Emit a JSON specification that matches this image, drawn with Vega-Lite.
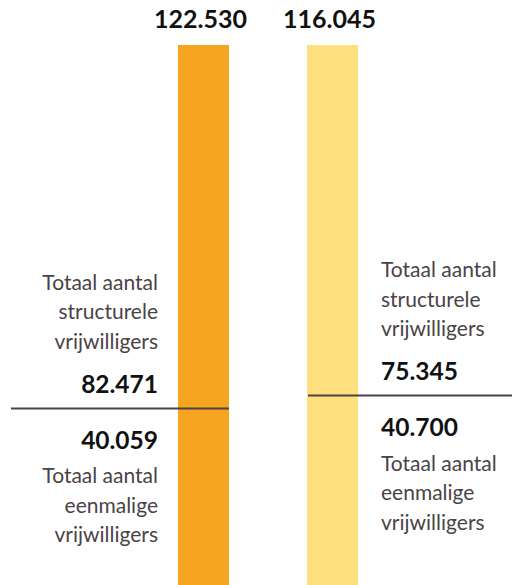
{
  "$schema": "https://vega.github.io/schema/vega-lite/v6.json",
  "width": 512,
  "height": 585,
  "autosize": {"type": "fit", "contains": "padding"},
  "padding": 0,
  "background": "#ffffff",
  "config": {
    "view": {"stroke": null},
    "locale": {"number": {"decimal": ",", "thousands": ".", "grouping": [3], "currency": ["€", ""]}},
    "text": {"font": "Lato"}
  },
  "data": {
    "values": [
      {"reeks": "eerste", "type": "eenmalige", "waarde": 40059, "label": "Totaal aantal\neenmalige\nvrijwilligers"},
      {"reeks": "eerste", "type": "structurele", "waarde": 82471, "label": "Totaal aantal\nstructurele\nvrijwilligers"},
      {"reeks": "tweede", "type": "eenmalige", "waarde": 40700, "label": "Totaal aantal\neenmalige\nvrijwilligers"},
      {"reeks": "tweede", "type": "structurele", "waarde": 75345, "label": "Totaal aantal\nstructurele\nvrijwilligers"}
    ]
  },
  "transform": [
    {"stack": "waarde", "groupby": ["reeks"], "offset": "normalize", "sort": [{"field": "type", "order": "ascending"}], "as": ["y0", "y1"]},
    {"joinaggregate": [{"op": "sum", "field": "waarde", "as": "totaal"}], "groupby": ["reeks"]}
  ],
  "encoding": {
    "x": {"field": "reeks", "type": "nominal", "axis": null,
      "scale": {"type": "band", "domain": ["eerste", "tweede"], "range": [178, 358], "paddingInner": 0.6047, "paddingOuter": 0}}
  },
  "layer": [
    {
      "transform": [{"filter": "datum.type === 'structurele'"}],
      "mark": {"type": "bar"},
      "encoding": {
        "y": {"field": "y1", "type": "quantitative", "axis": null, "scale": {"domain": [0, 1.083333], "nice": false, "zero": true}},
        "y2": {"datum": 0},
        "color": {"field": "reeks", "type": "nominal", "legend": null, "scale": {"domain": ["eerste", "tweede"], "range": ["#F6A521", "#FFE07F"]}}
      }
    },
    {
      "transform": [{"filter": "datum.type === 'eenmalige' && datum.reeks === 'eerste'"}],
      "mark": {"type": "rule", "color": "#4B4346", "strokeWidth": 2},
      "encoding": {
        "x": {"field": "reeks", "type": "nominal", "bandPosition": -3.2745},
        "x2": {"field": "reeks", "bandPosition": 1},
        "y": {"field": "y1", "type": "quantitative"}
      }
    },
    {
      "transform": [{"filter": "datum.type === 'eenmalige' && datum.reeks === 'tweede'"}],
      "mark": {"type": "rule", "color": "#4B4346", "strokeWidth": 2},
      "encoding": {
        "x": {"field": "reeks", "type": "nominal", "bandPosition": 0.02},
        "x2": {"field": "reeks", "bandPosition": 4.02},
        "y": {"field": "y1", "type": "quantitative"}
      }
    },
    {
      "transform": [{"filter": "datum.type === 'structurele'"}],
      "mark": {"type": "text", "fontSize": 25, "fontWeight": "bold", "color": "#111111", "baseline": "alphabetic", "dy": -17, "dx": -3},
      "encoding": {
        "y": {"field": "y1", "type": "quantitative"},
        "text": {"field": "totaal", "type": "quantitative", "format": ",d"}
      }
    },
    {
      "transform": [{"filter": "datum.type === 'structurele' && datum.reeks === 'eerste'"}],
      "mark": {"type": "text", "fontSize": 24.5, "fontWeight": "bold", "color": "#111111", "baseline": "alphabetic", "align": "right", "dx": -20, "dy": -15.5},
      "encoding": {
        "x": {"field": "reeks", "type": "nominal", "bandPosition": 0},
        "y": {"field": "y0", "type": "quantitative"},
        "text": {"field": "waarde", "type": "quantitative", "format": ",d"}
      }
    },
    {
      "transform": [{"filter": "datum.type === 'structurele' && datum.reeks === 'eerste'"}],
      "mark": {"type": "text", "fontSize": 21, "color": "#4A4346", "baseline": "alphabetic", "align": "right", "dx": -20, "dy": -118.5, "lineBreak": "\n", "lineHeight": 29.5},
      "encoding": {
        "x": {"field": "reeks", "type": "nominal", "bandPosition": 0},
        "y": {"field": "y0", "type": "quantitative"},
        "text": {"field": "label", "type": "nominal"}
      }
    },
    {
      "transform": [{"filter": "datum.type === 'eenmalige' && datum.reeks === 'eerste'"}],
      "mark": {"type": "text", "fontSize": 24.5, "fontWeight": "bold", "color": "#111111", "baseline": "alphabetic", "align": "right", "dx": -20, "dy": 40.5},
      "encoding": {
        "x": {"field": "reeks", "type": "nominal", "bandPosition": 0},
        "y": {"field": "y1", "type": "quantitative"},
        "text": {"field": "waarde", "type": "quantitative", "format": ",d"}
      }
    },
    {
      "transform": [{"filter": "datum.type === 'eenmalige' && datum.reeks === 'eerste'"}],
      "mark": {"type": "text", "fontSize": 21, "color": "#4A4346", "baseline": "alphabetic", "align": "right", "dx": -20, "dy": 75, "lineBreak": "\n", "lineHeight": 29.5},
      "encoding": {
        "x": {"field": "reeks", "type": "nominal", "bandPosition": 0},
        "y": {"field": "y1", "type": "quantitative"},
        "text": {"field": "label", "type": "nominal"}
      }
    },
    {
      "transform": [{"filter": "datum.type === 'structurele' && datum.reeks === 'tweede'"}],
      "mark": {"type": "text", "fontSize": 24.5, "fontWeight": "bold", "color": "#111111", "baseline": "alphabetic", "align": "left", "dx": 23, "dy": -15.5},
      "encoding": {
        "x": {"field": "reeks", "type": "nominal", "bandPosition": 1},
        "y": {"field": "y0", "type": "quantitative"},
        "text": {"field": "waarde", "type": "quantitative", "format": ",d"}
      }
    },
    {
      "transform": [{"filter": "datum.type === 'structurele' && datum.reeks === 'tweede'"}],
      "mark": {"type": "text", "fontSize": 21, "color": "#4A4346", "baseline": "alphabetic", "align": "left", "dx": 23, "dy": -118.5, "lineBreak": "\n", "lineHeight": 29.5},
      "encoding": {
        "x": {"field": "reeks", "type": "nominal", "bandPosition": 1},
        "y": {"field": "y0", "type": "quantitative"},
        "text": {"field": "label", "type": "nominal"}
      }
    },
    {
      "transform": [{"filter": "datum.type === 'eenmalige' && datum.reeks === 'tweede'"}],
      "mark": {"type": "text", "fontSize": 24.5, "fontWeight": "bold", "color": "#111111", "baseline": "alphabetic", "align": "left", "dx": 23, "dy": 40.5},
      "encoding": {
        "x": {"field": "reeks", "type": "nominal", "bandPosition": 1},
        "y": {"field": "y1", "type": "quantitative"},
        "text": {"field": "waarde", "type": "quantitative", "format": ",d"}
      }
    },
    {
      "transform": [{"filter": "datum.type === 'eenmalige' && datum.reeks === 'tweede'"}],
      "mark": {"type": "text", "fontSize": 21, "color": "#4A4346", "baseline": "alphabetic", "align": "left", "dx": 23, "dy": 75, "lineBreak": "\n", "lineHeight": 29.5},
      "encoding": {
        "x": {"field": "reeks", "type": "nominal", "bandPosition": 1},
        "y": {"field": "y1", "type": "quantitative"},
        "text": {"field": "label", "type": "nominal"}
      }
    }
  ]
}
